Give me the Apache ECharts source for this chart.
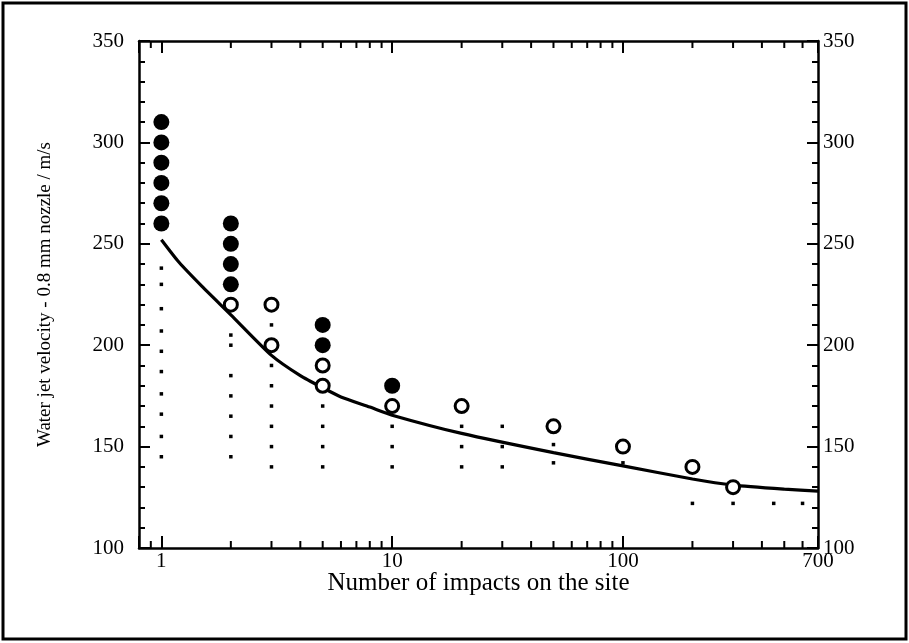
<!DOCTYPE html>
<html>
	<head>
		<meta charset="UTF-8">
		<title>Water jet velocity vs impacts</title>
		<style>
			html, body { margin: 0; padding: 0; background: #fff; }
			#chart { width: 909px; height: 643px; }
		</style>
	</head>
	<body>
		<div id="chart"></div>
		<script type="text/javascript" src="https://cdn.jsdelivr.net/npm/echarts@6/dist/echarts.min.js"></script>
		<script type="text/javascript">
			// [number of impacts, velocity m/s]
			var damagePoints = [
				[1, 260], [1, 270], [1, 280], [1, 290], [1, 300], [1, 310],
				[2, 230], [2, 240], [2, 250], [2, 260],
				[5, 200], [5, 210],
				[10, 180]
			];
			var openPoints = [
				[2, 220],
				[3, 200], [3, 220],
				[5, 180], [5, 190],
				[10, 170], [20, 170], [50, 160], [100, 150], [200, 140], [300, 130]
			];
			var dotPoints = [
				[1, 238], [1, 230], [1, 218], [1, 207], [1, 197], [1, 187], [1, 176], [1, 166], [1, 155], [1, 145],
				[2, 205], [2, 200], [2, 185], [2, 175], [2, 165], [2, 155], [2, 145],
				[3, 210], [3, 190], [3, 180], [3, 170], [3, 160], [3, 150], [3, 140],
				[5, 170], [5, 160], [5, 150], [5, 140],
				[10, 160], [10, 150], [10, 140],
				[20, 160], [20, 150], [20, 140],
				[30, 160], [30, 150], [30, 140],
				[50, 151], [50, 142],
				[100, 142],
				[200, 122], [300, 122], [450, 122], [600, 122]
			];
			var curvePoints = [
				[1, 252], [1.19, 241], [1.5, 229], [2, 215], [3, 195], [4, 185], [5, 179], [6, 174.5],
				[8, 169.5], [10, 165.5], [20, 156.5], [50, 147], [100, 140.5], [200, 134], [300, 131],
				[500, 129], [700, 128]
			];
			var xMinorTicks = [0.9, 2, 3, 4, 5, 6, 7, 8, 9, 20, 30, 40, 50, 60, 70, 80, 90, 200, 300, 400, 500, 600];
			var xLabels = [1, 10, 100, 700];
			var yTicks = [100, 150, 200, 250, 300, 350];

			var chart = echarts.init(document.getElementById('chart'));
			var serif = 'Liberation Serif';

			function yAxisCfg(pos) {
				return {
					type: 'value',
					position: pos,
					min: yTicks[0],
					max: yTicks[yTicks.length - 1],
					interval: 50,
					axisLine: { show: true, lineStyle: { color: '#000', width: 2.5 } },
					axisTick: { show: true, inside: true, length: 11, lineStyle: { color: '#000', width: 2 } },
					minorTick: { show: true, splitNumber: 5, length: 6, lineStyle: { color: '#000', width: 2 } },
					splitLine: { show: false },
					axisLabel: { show: true, color: '#000', fontFamily: serif, fontSize: 21, margin: pos === 'left' ? 15 : 5 }
				};
			}

			function xAxisCfg(pos) {
				return {
					type: 'log',
					position: pos,
					logBase: 10,
					min: 0.8,
					max: 700,
					axisLine: { show: true, lineStyle: { color: '#000', width: 2.5 } },
					axisTick: { show: true, inside: true, length: 12, lineStyle: { color: '#000', width: 2 } },
					splitLine: { show: false },
					axisLabel: {
						show: pos === 'bottom',
						color: '#000', fontFamily: serif, fontSize: 21, margin: 3,
						showMinLabel: true, showMaxLabel: true,
						formatter: function (v) {
							var r = Math.round(v * 10) / 10;
							return xLabels.indexOf(r) >= 0 ? String(r) : '';
						}
					}
				};
			}

			var xb = xAxisCfg('bottom');
			xb.name = 'Number of impacts on the site';
			xb.nameLocation = 'middle';
			xb.nameGap = 23;
			xb.nameMoveOverlap = false;
			xb.nameTextStyle = { color: '#000', fontFamily: serif, fontSize: 25 };

			var yl = yAxisCfg('left');
			yl.name = 'Water jet velocity - 0.8 mm nozzle / m/s';
			yl.nameLocation = 'middle';
			yl.nameGap = 84;
			yl.nameTextStyle = { color: '#000', fontFamily: serif, fontSize: 19 };

			var option = {
				animation: false,
				backgroundColor: '#fff',
				grid: { left: 139, right: 91, top: 41, bottom: 95 },
				xAxis: [xb, xAxisCfg('top')],
				yAxis: [yl, yAxisCfg('right')],
				graphic: [{
					type: 'rect',
					shape: { x: 3, y: 3, width: 903, height: 636 },
					style: { fill: 'none', stroke: '#000', lineWidth: 3 },
					silent: true
				}],
				series: [
					{
						type: 'custom',
						silent: true,
						clip: false,
						data: xMinorTicks.map(function (v) { return [v, 100]; }),
						renderItem: function (params, api) {
							var b = api.coord([api.value(0), 100]);
							var t = api.coord([api.value(0), 350]);
							return {
								type: 'group',
								children: [
									{ type: 'line', shape: { x1: b[0], y1: b[1], x2: b[0], y2: b[1] - 7 }, style: { stroke: '#000', lineWidth: 2 } },
									{ type: 'line', shape: { x1: t[0], y1: t[1], x2: t[0], y2: t[1] + 7 }, style: { stroke: '#000', lineWidth: 2 } }
								]
							};
						}
					},
					{
						type: 'scatter',
						data: dotPoints,
						symbol: 'rect',
						symbolSize: 3.5,
						itemStyle: { color: '#000', opacity: 1 },
						z: 2
					},
					{
						type: 'line',
						data: curvePoints,
						showSymbol: false,
						symbol: 'none',
						smooth: 0.2,
						lineStyle: { color: '#000', width: 3.2 },
						z: 3
					},
					{
						type: 'scatter',
						data: openPoints,
						symbol: 'circle',
						symbolSize: 13,
						itemStyle: { color: '#fff', borderColor: '#000', borderWidth: 3, opacity: 1 },
						z: 4
					},
					{
						type: 'scatter',
						data: damagePoints,
						symbol: 'circle',
						symbolSize: 16,
						itemStyle: { color: '#000', opacity: 1 },
						z: 4
					}
				]
			};
			chart.setOption(option);
		</script>
	</body>
</html>
